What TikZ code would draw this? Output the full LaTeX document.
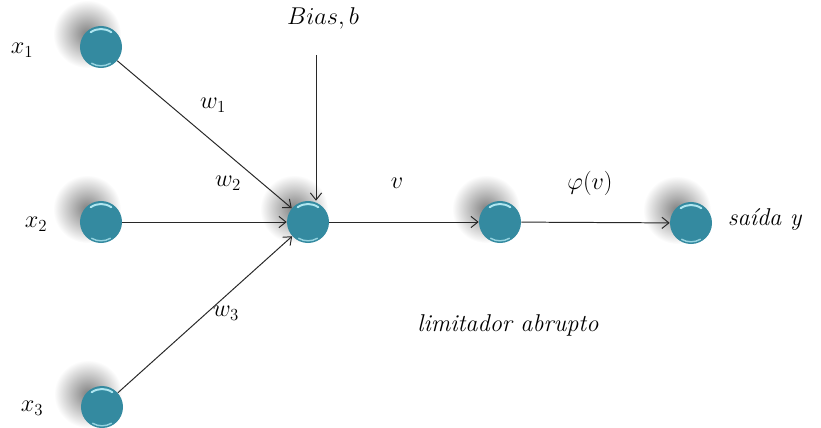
\documentclass[tikz,border=0pt]{standalone}
\usepackage{fontspec}
\usepackage{amsmath}
\usepackage{tikz}
\usetikzlibrary{calc,arrows.meta}

\definecolor{ballblue}{RGB}{52,138,160}
\definecolor{ballrim}{RGB}{175,230,240}
\definecolor{linegray}{RGB}{40,40,40}

\tikzset{
	neuron/.style={circle, minimum size=1.05cm, inner sep=0pt, fill=ballblue,
		path picture={
			\draw[ballrim, line width=1.4pt, line cap=round] ([shift={(55:0.45cm)}]path picture bounding box.center) arc (55:125:0.45cm);
			\draw[ballrim, line width=1pt, line cap=round, opacity=0.8] ([shift={(-60:0.47cm)}]path picture bounding box.center) arc (-60:-120:0.47cm);
		}},
	glow/.style={inner color=black!50, outer color=white},
	link/.style={-{Straight Barb[length=5pt, width=8pt]}, draw=linegray, line width=0.7pt},
	lbl/.style={font=\LARGE, inner sep=0pt}
}

\begin{document}
\begin{tikzpicture}[x=0.025cm, y=-0.025cm]
		\useasboundingbox (0,0) rectangle (821,427);

		% shadows behind the balls
		\foreach \px/\py in {101/47, 101/222, 102/407, 308/222, 500/222, 691/223}
			\shade[glow] (\px-14, \py-13) circle (34);

		\node[neuron] (x1) at (101,47) {};
		\node[neuron] (x2) at (101,222) {};
		\node[neuron] (x3) at (102,407) {};
		\node[neuron] (sum) at (308,222) {};
		\node[neuron] (lim) at (500,222) {};
		\node[neuron] (out) at (691,223) {};
		\coordinate (bias) at (316,55);

		\node[lbl] (lx1) at (22,50) {$x_1$};
		\node[lbl] (lx2) at (36,224) {$x_2$};
		\node[lbl] (lx3) at (32,408) {$x_3$};
		\node[lbl] (lw1) at (213,105) {$w_1$};
		\node[lbl] (lw2) at (228,183) {$w_2$};
		\node[lbl] (lw3) at (226,313) {$w_3$};
		\node[lbl] (lbias) at (323,18) {$Bias, b$};
		\node[lbl] (lv) at (397,183) {$v$};
		\node[lbl] (lphi) at (590,183) {$\varphi(v)$};
		\node[lbl] (ly) at (765,220) {\textit{saída y}};
		\node[lbl] (llim) at (508,325) {\textit{limitador abrupto}};

		\draw[link] (x1) -- (sum);
		\draw[link] (x2) -- (sum);
		\draw[link] (x3) -- (sum);
		\draw[link] (bias) -- (bias |- sum.north);
		\draw[link] (sum) -- (lim);
		\draw[link] (lim) -- (out);
	\end{tikzpicture}
\end{document}
